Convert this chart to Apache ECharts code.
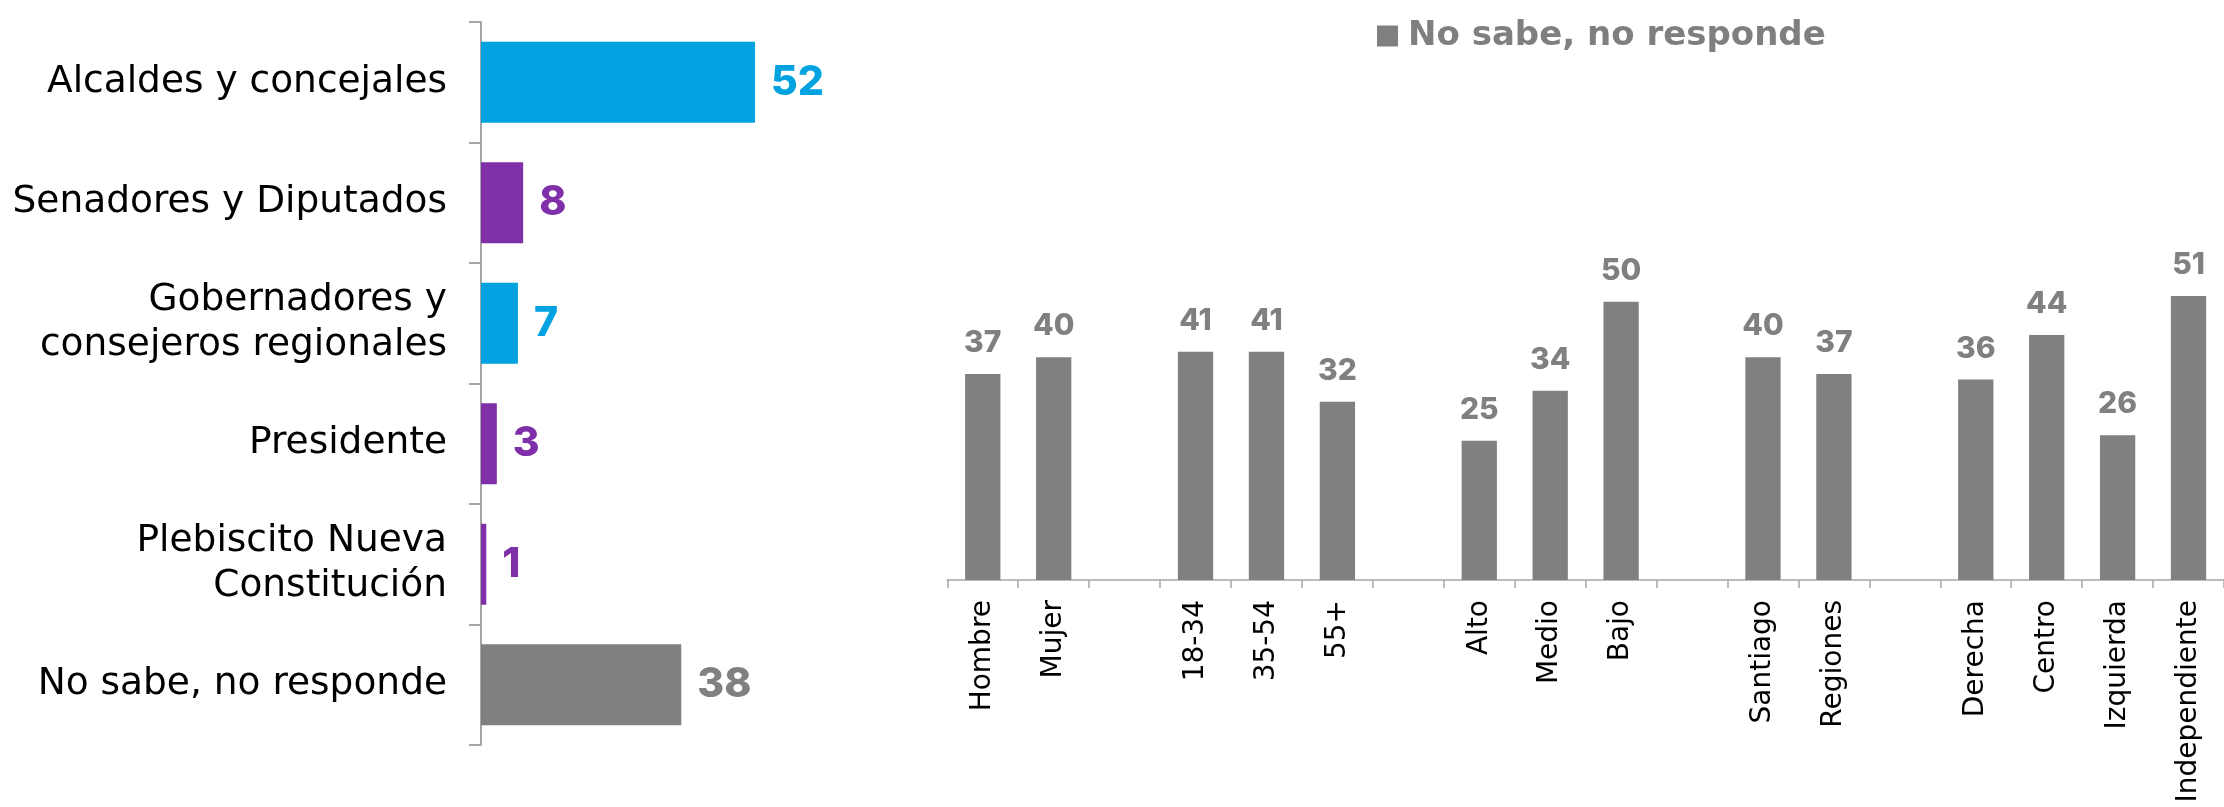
<!DOCTYPE html>
<html>
<head>
<meta charset="utf-8">
<script src="https://cdn.jsdelivr.net/npm/echarts@6/dist/echarts.min.js"></script>
<style>
html,body{margin:0;padding:0;background:#fff;}
#chart{width:2224px;height:807px;}
</style>
</head>
<body>
<div id="chart"></div>
<script>
// ---- Data ----
const leftCategories = ['Alcaldes y concejales', 'Senadores y Diputados', 'Gobernadores y\nconsejeros regionales', 'Presidente', 'Plebiscito Nueva\nConstitución', 'No sabe, no responde'];
const leftValues = [52, 8, 7, 3, 1, 38];
const leftGroups = ['blue', 'purple', 'blue', 'purple', 'purple', 'grey'];

const rightSeriesName = 'No sabe, no responde';
const rightCategories = ['Hombre', 'Mujer', ' ', '18-34', '35-54', '55+', '  ', 'Alto', 'Medio', 'Bajo', '   ', 'Santiago', 'Regiones', '    ', 'Derecha', 'Centro', 'Izquierda', 'Independiente'];
const rightValues = [37, 40, null, 41, 41, 32, null, 25, 34, 50, null, 40, 37, null, 36, 44, 26, 51];

// ---- Styles ----
const palette = { blue: '#00A3E0', purple: '#7F30A8', grey: '#808080' };
const axisGrey = '#A6A6A6';

const chart = echarts.init(document.getElementById('chart'));
chart.setOption({
  animation: false,
  backgroundColor: '#fff',
  legend: {
    show: true,
    data: [rightSeriesName],
    left: 1372,
    top: 14,
    icon: 'rect',
    itemWidth: 21,
    itemHeight: 21,
    selectedMode: false,
    textStyle: { color: '#7F7F7F', fontFamily: 'DejaVu Sans', fontWeight: 'bold', fontSize: 34, padding: [0, 0, 0, 5] }
  },
  grid: [
    { left: 481, top: 22, width: 527, height: 723 },
    { left: 947.3, top: 246, width: 1290.6, height: 334 }
  ],
  xAxis: [
    { gridIndex: 0, type: 'value', min: 0, max: 100, show: false },
    {
      gridIndex: 1, type: 'category', data: rightCategories,
      axisLine: { show: true, lineStyle: { color: axisGrey, width: 1.5 } },
      axisTick: { show: true, length: 8, lineStyle: { color: axisGrey, width: 1.5 } },
      axisLabel: { rotate: 90, margin: 20, color: '#000', fontFamily: 'DejaVu Sans', fontSize: 28, interval: 0 },
      splitLine: { show: false }
    }
  ],
  yAxis: [
    {
      gridIndex: 0, type: 'category', data: leftCategories, inverse: true,
      axisLine: { show: true, lineStyle: { color: axisGrey, width: 2 } },
      axisTick: { show: true, length: 12, lineStyle: { color: axisGrey, width: 2 } },
      axisLabel: { margin: 34, color: '#000', fontFamily: 'DejaVu Sans', fontSize: 37.5, lineHeight: 45, align: 'right', interval: 0 },
      splitLine: { show: false }
    },
    { gridIndex: 1, type: 'value', min: 0, max: 60, show: false }
  ],
  series: [
    {
      type: 'bar', xAxisIndex: 0, yAxisIndex: 0,
      barWidth: 81,
      data: leftValues.map((v, i) => ({
        value: v,
        itemStyle: { color: palette[leftGroups[i]] },
        label: { color: palette[leftGroups[i]] }
      })),
      label: { show: true, position: 'right', distance: 16, fontFamily: 'Inter', fontWeight: 800, fontSize: 41 }
    },
    {
      name: rightSeriesName,
      type: 'bar', xAxisIndex: 1, yAxisIndex: 1,
      barWidth: 35.3,
      itemStyle: { color: palette.grey },
      data: rightValues,
      label: { show: true, position: 'top', distance: 16, color: '#808080', fontFamily: 'Inter', fontWeight: 800, fontSize: 30 }
    }
  ]
});
</script>
</body>
</html>
